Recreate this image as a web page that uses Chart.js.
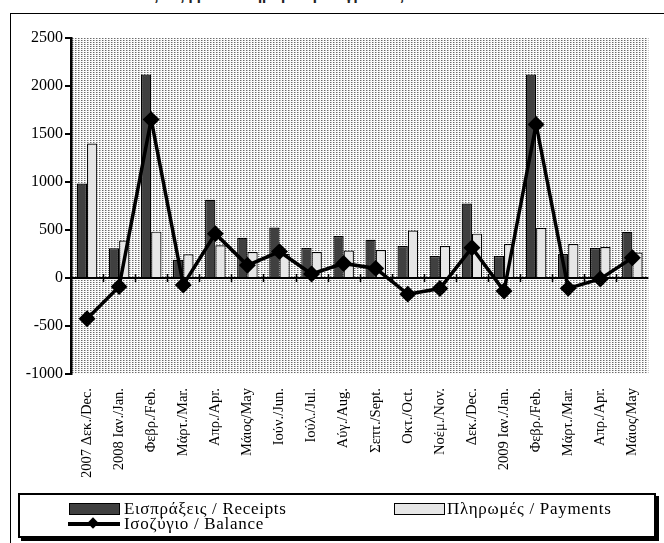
<!DOCTYPE html>
<html>
<head>
<meta charset="utf-8">
<script src="https://cdn.jsdelivr.net/npm/chart.js@4.4.1/dist/chart.umd.min.js"></script>
<style>
  body { margin: 0; background: #fff; width: 664px; height: 543px; overflow: hidden; position: relative;
         font-family: "Liberation Serif", "Times New Roman", serif; }
  #frame { position: absolute; left: 10px; top: 13px; width: 700px; height: 600px;
           border-left: 1.5px solid #000; border-top: 1.5px solid #000; }
  #title { position: absolute; top: -11px; left: 0; width: 664px; text-align: center;
           font: bold 12px "DejaVu Sans", sans-serif; color: #222; white-space: nowrap; }
  #chart { position: absolute; left: 0; top: 0; }
  #legend { position: absolute; left: 18px; top: 493px; width: 634px; height: 41px;
            border: 2px solid #000; box-shadow: 3px 3px 0 #000; background: #fff;
            font-size: 17px; letter-spacing: 0.7px; }
  #legend div { position: absolute; white-space: nowrap; line-height: 16px; }
  .sw { width: 49px; height: 10px; border: 1.5px solid #000; }
</style>
</head>
<body>
<div id="frame"></div>
<div id="title">Εξέλιξη ροών πληρωμών μεταφράσεως: Current balance</div>
<canvas id="chart" width="664" height="543"></canvas>
<div id="legend">
  <div class="sw" style="left:49px;top:8px;background:#404040"></div>
  <div style="left:104px;top:6px">Εισπράξεις / Receipts</div>
  <div class="sw" style="left:374px;top:8px;background:#e6e6e6"></div>
  <div style="left:427px;top:6px">Πληρωμές / Payments</div>
  <div style="left:48px;top:27px;width:52px;height:4px;background:#000"></div>
  <div style="left:69px;top:24px;width:8px;height:8px;background:#000;transform:rotate(45deg)"></div>
  <div style="left:104px;top:21px">Ισοζύγιο / Balance</div>
</div>
<script>
// δεδομένα
const labels = [
  "2007 Δεκ./Dec.", "2008 Ιαν./Jan.", "Φεβρ./Feb.", "Μάρτ./Mar.", "Απρ./Apr.", "Μάιος/May",
  "Ιούν./Jun.", "Ιούλ./Jul.", "Αύγ./Aug.", "Σεπτ./Sept.", "Οκτ./Oct.", "Νοέμ./Nov.",
  "Δεκ./Dec.", "2009 Ιαν./Jan.", "Φεβρ./Feb.", "Μάρτ./Mar.", "Απρ./Apr.", "Μάιος/May"
];
const receipts = [985, 310, 2120, 190, 815, 418, 525, 312, 438, 398, 333, 228, 775, 228, 2120, 250, 312, 480];
const payments = [1400, 390, 483, 248, 340, 270, 252, 270, 286, 292, 494, 333, 462, 354, 522, 354, 322, 265];
const balance = [-425, -90, 1650, -72, 462, 132, 275, 42, 152, 100, -168, -110, 316, -135, 1600, -108, -10, 210];
const yTicks = [-1000, -500, 0, 500, 1000, 1500, 2000, 2500];

// μοτίβο φόντου
const tile = document.createElement("canvas");
tile.width = 3;
tile.height = 2;
const t = tile.getContext("2d");
t.fillStyle = "#fbfbfb";
t.fillRect(0, 0, 3, 2);
t.fillStyle = "#6a6a6a";
t.fillRect(0, 0, 1, 1);
t.fillStyle = "#b8b8b8";
t.fillRect(1, 0, 1, 1);

const bgPlugin = {
  id: "bg",
  beforeDraw(chart) {
    const { ctx, chartArea } = chart;
    ctx.save();
    ctx.fillStyle = ctx.createPattern(tile, "repeat");
    ctx.fillRect(chartArea.left, chartArea.top, chartArea.right - chartArea.left, chartArea.bottom - chartArea.top);
    ctx.restore();
  },
  beforeDatasetsDraw(chart) {
    const { ctx, chartArea, scales } = chart;
    const y0 = scales.y.getPixelForValue(0);
    ctx.save();
    ctx.strokeStyle = "#000";
    ctx.lineWidth = 2;
    ctx.beginPath();
    ctx.moveTo(chartArea.left, y0);
    ctx.lineTo(chartArea.right, y0);
    ctx.stroke();
    const w = (chartArea.right - chartArea.left) / labels.length;
    ctx.lineWidth = 1.5;
    for (let i = 1; i < labels.length; i++) {
      const x = Math.round(chartArea.left + i * w) + 0.5;
      ctx.beginPath();
      ctx.moveTo(x, y0 - 4);
      ctx.lineTo(x, y0 + 4);
      ctx.stroke();
    }
    ctx.restore();
  }
};

const serif = "'Liberation Serif', 'Times New Roman', serif";

new Chart(document.getElementById("chart"), {
  type: "bar",
  data: {
    labels: labels,
    datasets: [
      {
        type: "line",
        label: "Ισοζύγιο / Balance",
        data: balance,
        borderColor: "#000",
        borderWidth: 3.5,
        pointStyle: "rectRot",
        pointRadius: 6,
        pointBackgroundColor: "#000",
        pointBorderColor: "#000",
        tension: 0,
        order: 0
      },
      {
        label: "Εισπράξεις / Receipts",
        data: receipts,
        backgroundColor: "#404040",
        borderColor: "#000",
        borderWidth: 1.2,
        categoryPercentage: 0.64,
        barPercentage: 1,
        order: 1
      },
      {
        label: "Πληρωμές / Payments",
        data: payments,
        backgroundColor: "#e6e6e6",
        borderColor: "#000",
        borderWidth: 1.2,
        categoryPercentage: 0.64,
        barPercentage: 1,
        order: 1
      }
    ]
  },
  options: {
    responsive: false,
    animation: false,
    layout: { padding: { top: 38, right: 0, left: 0, bottom: 0 } },
    plugins: {
      legend: { display: false },
      tooltip: { enabled: false }
    },
    scales: {
      x: {
        grid: { display: false, drawTicks: false },
        border: { display: false },
        ticks: {
          autoSkip: false,
          minRotation: 90,
          maxRotation: 90,
          padding: 14,
          color: "#000",
          font: { family: serif, size: 14.5 }
        },
        afterFit(scale) { scale.height = 169; }
      },
      y: {
        min: -1000,
        max: 2500,
        afterBuildTicks(scale) { scale.ticks = yTicks.map(v => ({ value: v })); },
        grid: { drawOnChartArea: false, drawTicks: true, tickLength: 6, color: "#000", lineWidth: 2 },
        border: { display: true, color: "#000", width: 2.5 },
        ticks: {
          padding: 2,
          color: "#000",
          font: { family: serif, size: 16 },
          callback: (v) => String(v)
        },
        afterFit(scale) { scale.width = 71; }
      }
    }
  },
  plugins: [bgPlugin]
});
</script>
</body>
</html>
